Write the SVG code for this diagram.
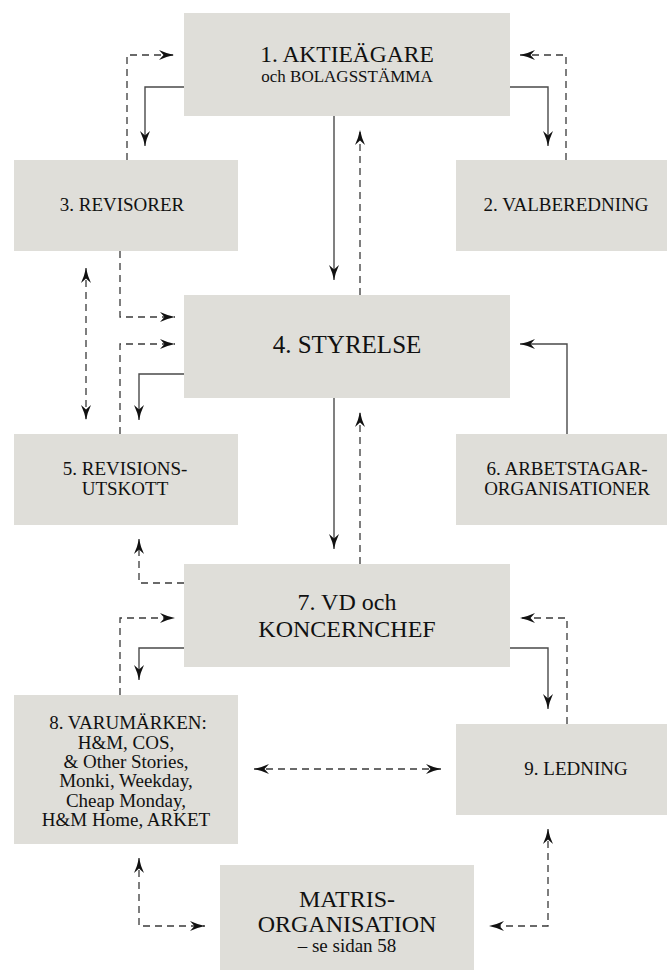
<svg xmlns="http://www.w3.org/2000/svg" width="667" height="970" viewBox="0 0 667 970">
<style>
.box{fill:#dfded9}
.t{font-family:"Liberation Serif","Times New Roman",serif;fill:#111;text-anchor:middle}
.big{font-size:24px}
.lab{font-size:19px}
.sm{font-size:17px}
.ln{fill:none;stroke:#4a4a4a;stroke-width:1.4}
.ds{fill:none;stroke:#3a3a3a;stroke-width:1.3;stroke-dasharray:7 5}
</style>
<defs>
<marker id="ah" viewBox="0 0 15 11" markerUnits="userSpaceOnUse" markerWidth="15" markerHeight="11" refX="15" refY="5.5" orient="auto-start-reverse">
<path d="M0,0.5 Q7.5,4 15,5.5 Q7.5,7 0,10.5 L4.5,5.5 Z" fill="#111"/>
</marker>
</defs>
<rect width="667" height="970" fill="#fff"/>
<g id="connectors">
<polyline class="ln" points="184,87 145,87 145,146" marker-end="url(#ah)"/>
<polyline class="ds" points="127,160 127,55 174,55" marker-end="url(#ah)"/>
<polyline class="ln" points="510,87 548,87 548,146" marker-end="url(#ah)"/>
<polyline class="ds" points="566,160 566,55 520,55" marker-end="url(#ah)"/>
<polyline class="ln" points="334,116 334,280" marker-end="url(#ah)"/>
<polyline class="ds" points="360,295 360,130" marker-end="url(#ah)"/>
<polyline class="ds" points="120,251 120,317 175,317" marker-end="url(#ah)"/>
<polyline class="ds" points="120,434 120,344 175,344" marker-end="url(#ah)"/>
<polyline class="ln" points="184,374 139,374 139,420" marker-end="url(#ah)"/>
<polyline class="ds" points="86,268 86,420" marker-start="url(#ah)" marker-end="url(#ah)"/>
<polyline class="ln" points="567,434 567,344 520,344" marker-end="url(#ah)"/>
<polyline class="ln" points="334,398 334,549" marker-end="url(#ah)"/>
<polyline class="ds" points="360,564 360,412" marker-end="url(#ah)"/>
<polyline class="ds" points="184,583 139,583 139,539" marker-end="url(#ah)"/>
<polyline class="ds" points="120,695 120,618 175,618" marker-end="url(#ah)"/>
<polyline class="ln" points="184,648 139,648 139,680" marker-end="url(#ah)"/>
<polyline class="ln" points="510,648 548,648 548,709" marker-end="url(#ah)"/>
<polyline class="ds" points="567,724 567,618 520,618" marker-end="url(#ah)"/>
<polyline class="ds" points="254,769 441,769" marker-start="url(#ah)" marker-end="url(#ah)"/>
<polyline class="ds" points="139,858 139,926 205,926" marker-start="url(#ah)" marker-end="url(#ah)"/>
<polyline class="ds" points="548,829 548,926 489,926" marker-start="url(#ah)" marker-end="url(#ah)"/>
</g>
<g id="n1">
<rect class="box" x="184" y="13" width="326" height="103"/>
<text class="t big" x="347" y="62" style="font-size:23.5px">1. AKTIEÄGARE</text>
<text class="t sm" x="347" y="82">och BOLAGSSTÄMMA</text>
</g>
<g id="n3">
<rect class="box" x="14" y="160" width="224" height="91"/>
<text class="t lab" x="122" y="211">3. REVISORER</text>
</g>
<g id="n2">
<rect class="box" x="456" y="160" width="211" height="91"/>
<text class="t lab" x="566" y="211">2. VALBEREDNING</text>
</g>
<g id="n4">
<rect class="box" x="184" y="295" width="326" height="103"/>
<text class="t big" x="347" y="353" style="font-size:25px">4. STYRELSE</text>
</g>
<g id="n5">
<rect class="box" x="14" y="434" width="224" height="91"/>
<text class="t lab" x="125" y="475">5. REVISIONS-</text>
<text class="t lab" x="125" y="495">UTSKOTT</text>
</g>
<g id="n6">
<rect class="box" x="456" y="434" width="211" height="91"/>
<text class="t lab" x="567" y="475">6. ARBETSTAGAR-</text>
<text class="t lab" x="567" y="495">ORGANISATIONER</text>
</g>
<g id="n7">
<rect class="box" x="184" y="564" width="326" height="103"/>
<text class="t big" x="347" y="610">7. VD och</text>
<text class="t big" x="347" y="637">KONCERNCHEF</text>
</g>
<g id="n8">
<rect class="box" x="14" y="695" width="224" height="149"/>
<text class="t lab" x="128" y="729">8. VARUMÄRKEN:</text>
<text class="t lab" x="126" y="748.5">H&amp;M, COS,</text>
<text class="t lab" x="126" y="768">&amp; Other Stories,</text>
<text class="t lab" x="126" y="787">Monki, Weekday,</text>
<text class="t lab" x="126" y="806.5">Cheap Monday,</text>
<text class="t lab" x="126" y="826">H&amp;M Home, ARKET</text>
</g>
<g id="n9">
<rect class="box" x="456" y="724" width="211" height="91"/>
<text class="t lab" x="576" y="775">9. LEDNING</text>
</g>
<g id="n10">
<rect class="box" x="220" y="865" width="254" height="105"/>
<text class="t big" x="347" y="907">MATRIS-</text>
<text class="t big" x="347" y="932">ORGANISATION</text>
<text class="t lab" x="347" y="952">– se sidan 58</text>
</g>
</svg>
